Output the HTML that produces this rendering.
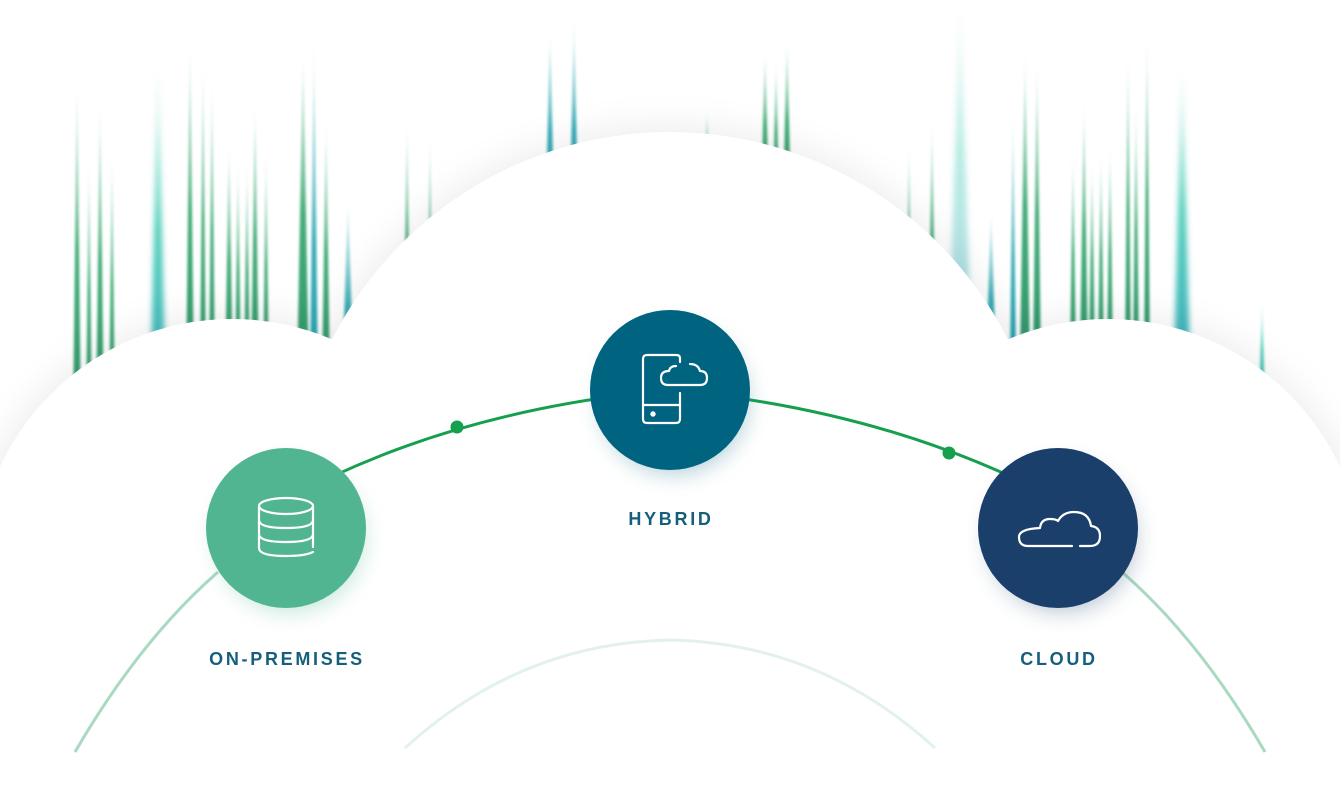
<!DOCTYPE html>
<html><head><meta charset="utf-8"><style>
html,body{margin:0;padding:0;background:#fff;width:1340px;height:800px;overflow:hidden;}
body{position:relative;font-family:"Liberation Sans",sans-serif;}
.lbl{position:absolute;color:#155f7c;font-weight:bold;font-size:18px;letter-spacing:2.7px;text-align:center;width:240px;line-height:20px;}
</style></head><body>
<svg width="1340" height="800" viewBox="0 0 1340 800" style="position:absolute;left:0;top:0;display:block">
<defs>
<linearGradient id="g1" x1="0" y1="0" x2="0" y2="1"><stop offset="0" stop-color="#1a9a5a" stop-opacity="0"/><stop offset="0.5" stop-color="#1a9a5a" stop-opacity="0.8"/><stop offset="1" stop-color="#1a8a5a" stop-opacity="0.9"/></linearGradient>
<linearGradient id="g2" x1="0" y1="0" x2="0" y2="1"><stop offset="0" stop-color="#3ac8b0" stop-opacity="0"/><stop offset="0.5" stop-color="#3ac8b0" stop-opacity="0.85"/><stop offset="1" stop-color="#2aa8b8" stop-opacity="0.9"/></linearGradient>
<linearGradient id="g3" x1="0" y1="0" x2="0" y2="1"><stop offset="0" stop-color="#109aa8" stop-opacity="0"/><stop offset="0.6" stop-color="#109aa8" stop-opacity="0.8"/><stop offset="1" stop-color="#109aa8" stop-opacity="0.9"/></linearGradient>
<filter id="b" x="-2" y="-0.2" width="5" height="1.4"><feGaussianBlur stdDeviation="1.2"/></filter>
<filter id="bb" x="-2" y="-0.2" width="5" height="1.4"><feGaussianBlur stdDeviation="3"/></filter>
<filter id="sh" x="-0.3" y="-0.3" width="1.6" height="1.6"><feGaussianBlur stdDeviation="22"/></filter>
<filter id="ns" x="-0.5" y="-0.5" width="2" height="2"><feGaussianBlur stdDeviation="12"/></filter>
</defs>
<g filter="url(#b)">
<path d="M77 80 L73 420 L81 420Z" fill="url(#g1)"/>
<path d="M89 160 L86 420 L92 420Z" fill="url(#g1)"/>
<path d="M100 100 L96 420 L104 420Z" fill="url(#g1)"/>
<path d="M112 150 L109 420 L115 420Z" fill="url(#g1)"/>
<path d="M190 40 L186 380 L194 380Z" fill="url(#g1)"/>
<path d="M203 60 L200 380 L206 380Z" fill="url(#g1)"/>
<path d="M212 80 L209 380 L215 380Z" fill="url(#g1)"/>
<path d="M229 140 L225 380 L233 380Z" fill="url(#g1)"/>
<path d="M238 160 L235 380 L241 380Z" fill="url(#g1)"/>
<path d="M247 160 L244 380 L250 380Z" fill="url(#g1)"/>
<path d="M255 100 L251 380 L259 380Z" fill="url(#g1)"/>
<path d="M266 150 L263 380 L269 380Z" fill="url(#g1)"/>
<path d="M303 50 L297 380 L309 380Z" fill="url(#g1)"/>
<path d="M314 40 L310 380 L318 380Z" fill="url(#g3)"/>
<path d="M326 120 L322 380 L330 380Z" fill="url(#g1)"/>
<path d="M348 200 L342 380 L354 380Z" fill="url(#g3)"/>
<path d="M407 120 L403 380 L411 380Z" fill="url(#g1)"/>
<path d="M430 130 L427 380 L433 380Z" fill="url(#g1)"/>
<path d="M550 30 L546 200 L554 200Z" fill="url(#g3)"/>
<path d="M574 20 L570 200 L578 200Z" fill="url(#g3)"/>
<path d="M707 110 L704 200 L710 200Z" fill="url(#g1)"/>
<path d="M765 50 L761 200 L769 200Z" fill="url(#g1)"/>
<path d="M776 60 L773 200 L779 200Z" fill="url(#g1)"/>
<path d="M787 40 L783 200 L791 200Z" fill="url(#g1)"/>
<path d="M909 140 L906 360 L912 360Z" fill="url(#g1)"/>
<path d="M932 120 L928 360 L936 360Z" fill="url(#g1)"/>
<path d="M991 210 L986 360 L996 360Z" fill="url(#g3)"/>
<path d="M1013 110 L1010 360 L1016 360Z" fill="url(#g3)"/>
<path d="M1025 50 L1020 360 L1030 360Z" fill="url(#g1)"/>
<path d="M1037 60 L1033 360 L1041 360Z" fill="url(#g1)"/>
<path d="M1073 150 L1070 360 L1076 360Z" fill="url(#g1)"/>
<path d="M1084 100 L1080 360 L1088 360Z" fill="url(#g1)"/>
<path d="M1092 160 L1089 360 L1095 360Z" fill="url(#g1)"/>
<path d="M1101 150 L1098 360 L1104 360Z" fill="url(#g1)"/>
<path d="M1110 140 L1107 360 L1113 360Z" fill="url(#g1)"/>
<path d="M1128 50 L1125 360 L1131 360Z" fill="url(#g1)"/>
<path d="M1136 100 L1133 360 L1139 360Z" fill="url(#g1)"/>
<path d="M1147 30 L1144 360 L1150 360Z" fill="url(#g1)"/>
<path d="M1262 300 L1259 400 L1265 400Z" fill="url(#g2)"/>
</g>
<g filter="url(#bb)">
<path d="M158 60 L150 400 L166 400Z" fill="url(#g2)"/>
<path d="M1182 60 L1174 360 L1190 360Z" fill="url(#g2)"/>
<path d="M960 0 L950 300 L970 300Z" fill="url(#g2)" opacity="0.4"/>
</g>
<g filter="url(#sh)" fill="#000" opacity="0.09">
<circle cx="670" cy="511" r="379"/><circle cx="232" cy="575" r="256"/><circle cx="1108" cy="575" r="256"/>
</g>
<g fill="#fff">
<circle cx="670" cy="511" r="379"/><circle cx="232" cy="575" r="256"/><circle cx="1108" cy="575" r="256"/>
<rect x="0" y="560" width="1340" height="240"/>
</g>
<path d="M75 752 Q140 640 218 572" fill="none" stroke="#a9d9c0" stroke-width="3"/>
<path d="M1265 752 Q1200 640 1122 572" fill="none" stroke="#a9d9c0" stroke-width="3"/>
<path d="M405 748 Q520 643 670 640 Q820 643 935 748" fill="none" stroke="#e2f2ea" stroke-width="3"/>
<path d="M286 500 Q450 410 670 390 Q890 410 1058 500" fill="none" stroke="#16a04e" stroke-width="3"/>
<circle cx="457" cy="427" r="6.5" fill="#16a04e"/>
<circle cx="949" cy="453" r="6.5" fill="#16a04e"/>
<circle cx="290" cy="538" r="72" fill="#52b591" opacity="0.4" filter="url(#ns)"/>
<circle cx="674" cy="400" r="72" fill="#00637f" opacity="0.35" filter="url(#ns)"/>
<circle cx="1062" cy="538" r="72" fill="#1b3f6b" opacity="0.35" filter="url(#ns)"/>
<circle cx="286" cy="528" r="80" fill="#52b591"/>
<circle cx="670" cy="390" r="80" fill="#00637f"/>
<circle cx="1058" cy="528" r="80" fill="#1b3f6b"/>
<g fill="none" stroke="#fff" stroke-width="2.2" stroke-linecap="round" stroke-linejoin="round">
<ellipse cx="286" cy="506" rx="27" ry="8"/>
<path d="M259 506 V548 Q259 556 286 556 Q305 556 313 552 M313 547 V506 M259 520 Q259 528 286 528 Q313 528 313 520 M259 534 Q259 542 286 542 Q313 542 313 534"/>
<path d="M680 358 V362 M680 358 Q680 355 676 355 H647 Q643 355 643 359 V419 Q643 423 647 423 H676 Q680 423 680 419 V393 M643 405 H680"/>
<circle cx="653" cy="414" r="1.6" fill="#fff"/>
<path d="M668 385 H700 Q707 385 707 378 Q707 371 700 371 Q698 364 690 364 M668 385 Q661 385 661 378 Q661 371 669 371 Q670 366 676 366"/>
<path d="M1080 546 H1090 Q1100 546 1100 536 Q1100 527 1091 526 Q1089 512 1074 512 Q1063 512 1058 521 Q1056 519 1050 519 Q1041 519 1040 528 Q1019 529 1019 537 Q1019 546 1028 546 H1072"/>
</g>
</svg>
<div class="lbl" style="left:167px;top:649px">ON-PREMISES</div>
<div class="lbl" style="left:551px;top:509px">HYBRID</div>
<div class="lbl" style="left:939px;top:649px">CLOUD</div>
</body></html>
